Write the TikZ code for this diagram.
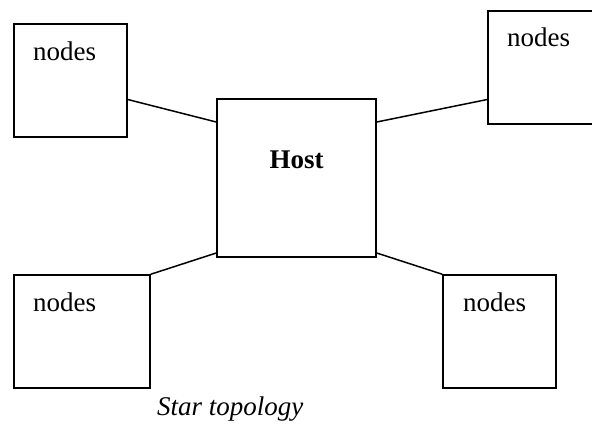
\documentclass[tikz,border=0pt]{standalone}
\usepackage{fontspec}
\setmainfont{Liberation Serif}
\begin{document}
\begin{tikzpicture}[x=1pt,y=-1pt,
  box/.style={draw, line width=1.5pt, inner sep=0pt},
  link/.style={line width=1.5pt},
  lbl/.style={inner sep=0pt, font=\fontsize{27}{32}\selectfont}]
\useasboundingbox (0,0) rectangle (592,424);
\clip (0,0) rectangle (592,424);

% boxes
\node[box, minimum width=113pt, minimum height=113pt] (tl) at (70.5,80.5) {};
\node[box, minimum width=112pt, minimum height=113pt] (tr) at (544,67.5) {};
\node[box, minimum width=159pt, minimum height=158pt] (host) at (296.5,178) {};
\node[box, minimum width=136pt, minimum height=113pt] (bl) at (82,331.5) {};
\node[box, minimum width=113pt, minimum height=113pt] (br) at (499.5,331.5) {};

% labels
\node[lbl, anchor=base west] (tltext) at (33,60) {nodes};
\node[lbl, anchor=base west] (trtext) at (507,46) {nodes};
\node[lbl, anchor=base west] (bltext) at (33,311) {nodes};
\node[lbl, anchor=base west] (brtext) at (463,311) {nodes};
\node[lbl, anchor=base, font=\fontsize{27}{32}\selectfont\bfseries] (hosttext) at (296.5,168) {Host};
\node[lbl, anchor=base west, font=\fontsize{27}{32}\selectfont\itshape] (caption) at (157,415) {Star topology};

% links
\draw[link] ([yshift=-19pt]tl.east) -- ([yshift=56pt]host.west);
\draw[link] ([yshift=56pt]host.east) -- ([yshift=-32pt]tr.west);
\draw[link] (bl.north east) -- ([yshift=-75pt]host.west);
\draw[link] ([yshift=-75pt]host.east) -- (br.north west);
\end{tikzpicture}
\end{document}
